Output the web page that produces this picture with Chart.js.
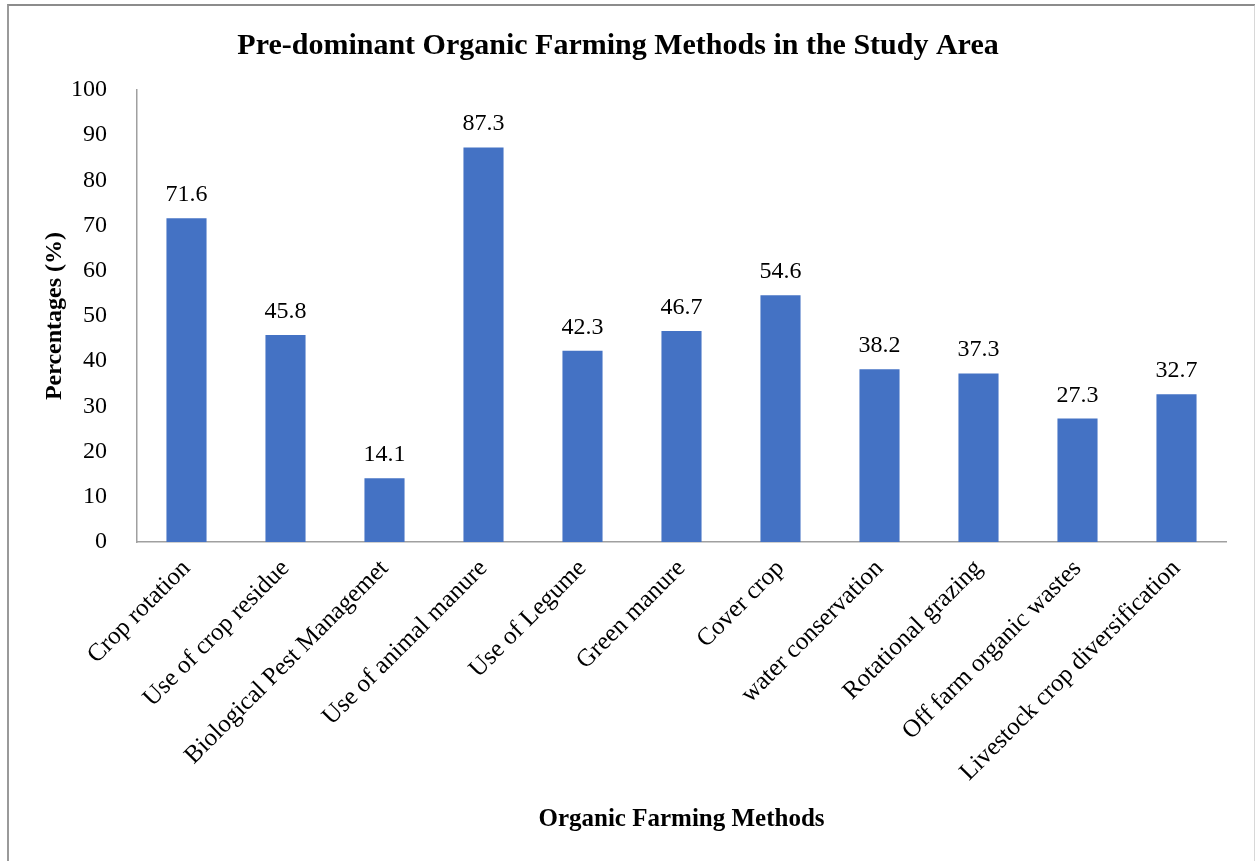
<!DOCTYPE html>
<html>
<head>
<meta charset="utf-8">
<script src="https://cdn.jsdelivr.net/npm/chart.js@4"></script>
<style>
  body { margin: 0; background: #fff; }
  #frame { position: absolute; left: 7px; top: 4px; width: 1245px; height: 870px;
           border-top: 2px solid #8c8c8c; border-left: 2px solid #9a9a9a; border-right: 2px solid #d8d8d8; }
  #wrap { position: absolute; left: 0; top: 0; width: 1255px; height: 861px; }
</style>
</head>
<body>
<div id="frame"></div>
<div id="wrap"><canvas id="farmChart" width="1255" height="861"></canvas></div>
<script>
var methods = ["Crop rotation", "Use of crop residue", "Biological Pest Managemet", "Use of animal manure",
  "Use of Legume", "Green manure", "Cover crop", "water conservation", "Rotational grazing",
  "Off farm organic wastes", "Livestock crop diversification"];
var percentages = [71.6, 45.8, 14.1, 87.3, 42.3, 46.7, 54.6, 38.2, 37.3, 27.3, 32.7];
var serif = "'Liberation Serif', 'Times New Roman', serif";

// value labels above each bar
const barLabels = {
  id: 'barLabels',
  afterDatasetsDraw(chart) {
    const ctx = chart.ctx;
    const meta = chart.getDatasetMeta(0);
    ctx.save();
    ctx.font = "24px " + serif;
    ctx.fillStyle = "#000";
    ctx.textAlign = "center";
    ctx.textBaseline = "alphabetic";
    meta.data.forEach(function (bar, i) {
      ctx.fillText(percentages[i].toFixed(1), bar.x, bar.y - 17);
    });
    ctx.restore();
  }
};

let chart = new Chart("farmChart", {
  type: "bar",
  data: {
    labels: methods,
    datasets: [{
      data: percentages,
      backgroundColor: "#4472C4",
      barPercentage: 0.405,
      categoryPercentage: 1
    }]
  },
  plugins: [barLabels],
  options: {
    responsive: false,
    animation: false,
    layout: { padding: { left: 10, right: 29, top: 0, bottom: 20 } },
    plugins: {
      legend: { display: false },
      tooltip: { enabled: false },
      title: {
        display: true,
        text: "Pre-dominant Organic Farming Methods in the Study Area",
        color: "#000",
        font: { family: serif, size: 30, weight: "bold" },
        padding: { top: 28, bottom: 26 }
      }
    },
    scales: {
      x: {
        grid: { display: false },
        border: { display: true, color: "#a0a0a0", width: 1.5 },
        ticks: {
          color: "#000",
          font: { family: serif, size: 25 },
          maxRotation: 45,
          minRotation: 45,
          autoSkip: false,
          padding: 4
        },
        title: {
          display: true,
          text: "Organic Farming Methods",
          color: "#000",
          font: { family: serif, size: 25, weight: "bold" },
          padding: { top: 0, bottom: 6 }
        },
        afterFit(scale) { scale.height = 861 - 20 - 542; }
      },
      y: {
        min: 0,
        max: 100,
        grid: { display: false },
        border: { display: true, color: "#a0a0a0", width: 1.5 },
        ticks: {
          stepSize: 10,
          color: "#000",
          font: { family: serif, size: 24 },
          padding: 22
        },
        title: {
          display: true,
          text: "Percentages (%)",
          color: "#000",
          font: { family: serif, size: 24, weight: "bold" },
          padding: { top: 30, bottom: 0 }
        },
        afterFit(scale) { scale.width = 137 - 10; }
      }
    }
  }
});
</script>
</body>
</html>
